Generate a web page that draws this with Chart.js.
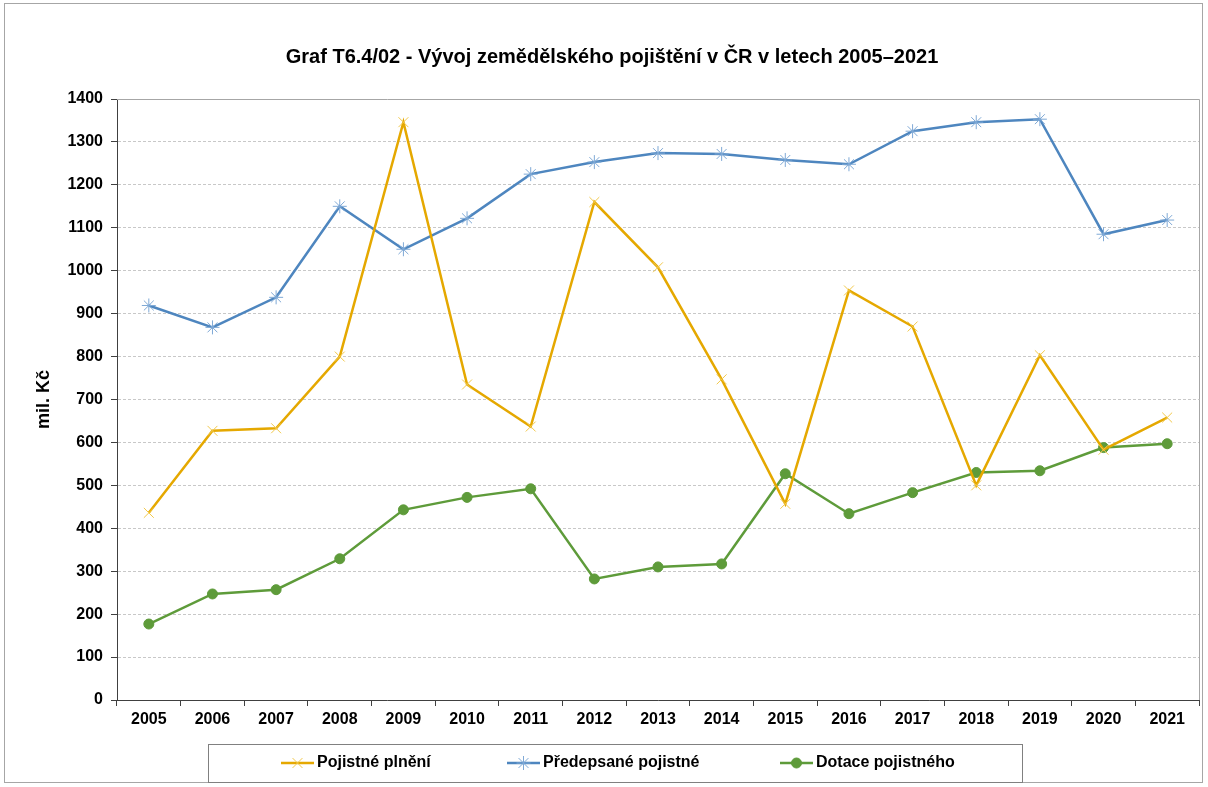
<!DOCTYPE html>
<html>
<head>
<meta charset="utf-8">
<script src="https://cdn.jsdelivr.net/npm/chart.js@4"></script>
<style>
  html, body { margin: 0; padding: 0; background: #fff; }
  #wrap { width: 1208px; height: 787px; position: relative; }
</style>
</head>
<body>
<div id="wrap"><canvas id="chartOne" width="1208" height="787"></canvas></div>
<script>
const years = ['2005','2006','2007','2008','2009','2010','2011','2012','2013','2014','2015','2016','2017','2018','2019','2020','2021'];
const pojistnePlneni = [436, 627, 633, 800, 1346, 735, 637, 1160, 1008, 747, 457, 954, 870, 500, 803, 583, 658];
const predepsanePojistne = [919, 868, 938, 1150, 1050, 1122, 1225, 1253, 1274, 1272, 1258, 1248, 1325, 1346, 1353, 1085, 1118];
const dotacePojistneho = [177, 247, 257, 329, 443, 472, 492, 282, 310, 317, 527, 434, 483, 530, 534, 588, 597];
const seriesNames = ['Pojistné plnění', 'Předepsané pojistné', 'Dotace pojistného'];

const FONT = "'Liberation Sans', Arial, sans-serif";

// frame around whole chart, gray border of plot area, boxed legend
const decorations = {
    id: 'decorations',
    beforeDraw(chart) {
        const c = chart.ctx;
        c.save();
        c.fillStyle = '#fff';
        c.fillRect(0, 0, chart.width, chart.height);
        c.restore();
    },
    afterDraw(chart) {
        const c = chart.ctx;
        const a = chart.chartArea;
        c.save();
        c.strokeStyle = '#a6a6a6';
        c.lineWidth = 1;
        c.strokeRect(4.5, 3.5, 1198, 779);
        c.beginPath();
        c.moveTo(a.left, a.top + 0.5);
        c.lineTo(a.right + 0.5, a.top + 0.5);
        c.lineTo(a.right + 0.5, a.bottom);
        c.stroke();

        // legend
        c.strokeStyle = '#808080';
        c.strokeRect(208.5, 744.5, 814, 38);
        const items = [281, 507, 780];
        c.font = 'bold 16px ' + FONT;
        c.textBaseline = 'middle';
        chart.data.datasets.forEach((ds, i) => {
            const x0 = items[i], y = 763;
            c.strokeStyle = ds.borderColor;
            c.lineWidth = 2.5;
            c.beginPath();
            c.moveTo(x0, y);
            c.lineTo(x0 + 33, y);
            c.stroke();
            c.lineWidth = 1;
            c.fillStyle = ds.pointBackgroundColor;
            c.strokeStyle = ds.pointBorderColor;
            Chart.helpers.drawPoint(c, {
                pointStyle: ds.pointStyle,
                radius: ds.pointRadius,
                borderWidth: 1
            }, x0 + 16.5, y);
            c.fillStyle = '#000';
            c.fillText(ds.label, x0 + 36, y);
        });
        c.restore();
    }
};

const ctx = document.getElementById('chartOne').getContext('2d');
const myChart = new Chart(ctx, {
    type: 'line',
    data: {
        labels: years,
        datasets: [
            {
                label: seriesNames[0],
                data: pojistnePlneni,
                borderColor: '#E5A800',
                borderWidth: 2.5,
                pointStyle: 'crossRot',
                pointRadius: 7,
                pointBorderWidth: 1,
                pointBorderColor: '#F2C94C',
                pointBackgroundColor: '#F2C94C',
                tension: 0
            },
            {
                label: seriesNames[1],
                data: predepsanePojistne,
                borderColor: '#4E86BF',
                borderWidth: 2.5,
                pointStyle: 'star',
                pointRadius: 7,
                pointBorderWidth: 1,
                pointBorderColor: '#7FA9D6',
                pointBackgroundColor: '#7FA9D6',
                tension: 0
            },
            {
                label: seriesNames[2],
                data: dotacePojistneho,
                borderColor: '#5E9B3A',
                borderWidth: 2.5,
                pointStyle: 'circle',
                pointRadius: 5,
                pointBorderWidth: 1,
                pointBorderColor: '#5E9B3A',
                pointBackgroundColor: '#5E9B3A',
                tension: 0
            }
        ]
    },
    options: {
        responsive: false,
        animation: false,
        events: [],
        layout: {
            padding: { left: 25, right: 9, top: 0, bottom: 57 }
        },
        scales: {
            x: {
                offset: true,
                grid: {
                    offset: true,
                    drawOnChartArea: false,
                    drawTicks: true,
                    tickLength: 6,
                    tickColor: '#404040'
                },
                border: { color: '#404040', width: 1 },
                ticks: {
                    color: '#000',
                    font: { family: FONT, size: 16, weight: 'bold' },
                    maxRotation: 0,
                    autoSkip: false,
                    padding: 4
                },
                afterFit: (scale) => { scale.height = 30; }
            },
            y: {
                min: 0,
                max: 1400,
                ticks: {
                    stepSize: 100,
                    color: '#000',
                    font: { family: FONT, size: 16, weight: 'bold' },
                    padding: 8,
                    callback: (value) => String(value)
                },
                grid: {
                    color: '#c8c8c8',
                    tickColor: '#404040',
                    tickLength: 6,
                    tickBorderDash: []
                },
                border: { color: '#404040', width: 1, dash: [3, 2] },
                title: {
                    display: true,
                    text: 'mil. Kč',
                    color: '#000',
                    font: { family: FONT, size: 18, weight: 'bold' },
                    padding: { top: 8, bottom: 0 }
                },
                afterFit: (scale) => { scale.width = 92; }
            }
        },
        plugins: {
            title: {
                display: true,
                text: 'Graf T6.4/02 - Vývoj zemědělského pojištění v ČR v letech 2005–2021',
                color: '#000',
                font: { family: FONT, size: 20, weight: 'bold' },
                padding: { top: 45, bottom: 30 }
            },
            legend: { display: false },
            tooltip: { enabled: false }
        }
    },
    plugins: [decorations]
});
</script>
</body>
</html>
